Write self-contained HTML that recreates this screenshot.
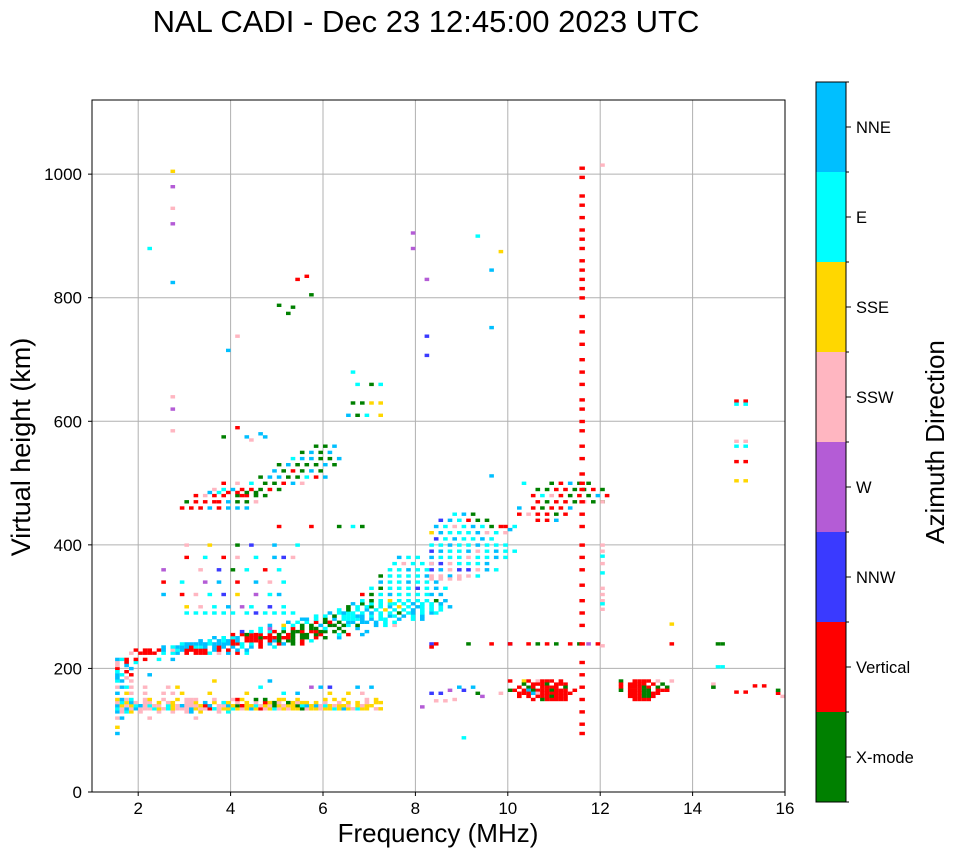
<!DOCTYPE html>
<html><head><meta charset="utf-8">
<style>
html,body{margin:0;padding:0;background:#fff;}
svg{display:block;font-family:"Liberation Sans","DejaVu Sans",sans-serif;}
</style></head>
<body>
<svg id="chart" width="958" height="857" viewBox="0 0 958 857" xmlns="http://www.w3.org/2000/svg">
<rect x="0" y="0" width="958" height="857" fill="#fff"/>
<text x="426" y="32" font-size="31" text-anchor="middle" fill="#000">NAL CADI - Dec 23 12:45:00 2023 UTC</text>
<g id="grid"></g>
<g id="marks"></g>
<rect x="92" y="100" width="693" height="692" fill="none" stroke="#000" stroke-width="1"/>
<g id="xticks"></g>
<g id="yticks"></g>
<text x="438" y="842" font-size="26" text-anchor="middle">Frequency (MHz)</text>
<text transform="translate(30,447) rotate(-90)" font-size="27" text-anchor="middle">Virtual height (km)</text>
<g id="cbar"></g>
<text transform="translate(944,442) rotate(-90)" font-size="26" text-anchor="middle">Azimuth Direction</text>
</svg>
<script>
const dirNames = ["X-mode","Vertical","NNW","W","SSW","SSE","E","NNE"];
const dirColors = ["#008000","#ff0000","#3a3aff","#b45cd6","#ffb6c1","#ffd700","#00ffff","#00bfff"];
const xTicks = [2,4,6,8,10,12,14,16];
const yTicks = [0,200,400,600,800,1000];

// Rows of echoes: height (km), start frequency (MHz), per-0.1MHz direction codes ('.' = none)
const rowHeight = [95,105,120,130,135,140,145,150,160,170,180,190,200,210,185,195,205,
 215,225,230,235,240,245,250,255,260,265,270,275,280,285,290,295,300,305,310,320,330,340,350,360,370,380,
 290,300,320,340,360,380,400,430,
 460,470,480,485,490,500,510,520,530,540,550,560,575,590,610,630,660,680,
 450,440,430,420,410,400,390,380,370,360,350,345,240,235,
 500,490,480,470,460,450,440,430,425,240,
 180,175,170,165,160,155,150,
 180,175,170,165,160,155,150];
const rowStartFreq = [1.5,1.5,1.5,1.5,1.5,1.5,1.5,1.5,1.5,1.5,1.5,1.5,1.5,1.5,1.5,1.5,1.5,
 1.5,1.8,1.9,2.5,2.9,3.3,3.6,4.0,4.2,4.6,4.8,5.2,5.5,5.8,6.1,6.3,6.5,6.6,6.8,6.8,7.0,7.2,7.2,7.4,7.5,7.6,
 3.0,3.0,2.5,2.5,2.5,3.0,3.0,5.0,
 2.9,3.0,3.2,3.5,3.6,3.8,4.6,4.9,5.0,5.3,5.5,5.8,3.8,4.1,6.5,6.6,6.7,6.6,
 8.8,8.5,8.4,8.3,8.4,8.3,8.3,8.3,8.3,8.3,8.3,8.3,8.3,8.3,
 10.3,10.6,10.5,10.6,10.2,10.2,10.6,9.9,10.0,10.0,
 10.0,10.3,10.2,10.1,10.2,10.2,10.5,
 12.4,12.4,12.4,12.4,12.6,12.6,12.7];
const rowCodes = ["7","5","47.....4.........4","7465.4...4..4..47.5...4.6",
 "6474744465465444754416455654575145645455045545565754655.45",
 "7545674644.6547444517.44750155645405455067574654554.5455..",
 "46574.44.5.45..445.7.5.65.4.5.4.1504.05455.5.4..4.5.5.4.55",
 "5746..45..4..5.444...4...415..0.0..55..5.....5.5.5....4.5.",
 "7.54..4...4.4.5.....5.......5.......6..7......5...5..4.....",
 "4764..4....4.5.................6..........3.7.2.....7..7...",
 "67.4.................5...........7......................",
 "76.1...7...............",
 "1..7......",
 "4.1.6.....",
 "7.4.",
 "6.1",
 "4.7",
 "761.1.1..6..7......",
 "4.1111.6.67.1.1116.4.7.1.6...",
 "1.11.17.46711111.71.1.7.7...",
 "7.67771667.717.7.6.7.1..6",
 "67777767777116.6.1.7.17.0.1",
 "7.6.76717.1111.170.00.1.6..",
 "7.6.67.11101110110.00.1.0..7",
 "1.10111.1.0.10.00.01...6.1..7",
 "2.6.6.61.0.001.1100.0.0....7",
 "6.3..6.1.0.00.6..0...7",
 "7..5.6.0.0.7.00.06.0...7.6.4",
 "7.6.6.1.01.0.77.77.7.6.6",
 "77.6.0.7.66667.7.66..7..6.7",
 "6.6.0.66677.6.6.76.7.6.7",
 "7.6766.6.7.6.6.0.67.6.76",
 "6.0.6.7.6.5.6.6.7.6.6.6",
 "0.6.60.6.7.5.6.76.6.6.7",
 "7.0.6.6.66.6.7.6.6.7",
 "6.0.6.5.6.6.6.6.0.7",
 "1.0.6.7.6.6.6.67.7",
 "6.0.6.6.6.2.6.7.6",
 "7.6.6.7.6.6.7",
 "0.6.6.6.6.7",
 "6.6.7.6.6",
 "6.4.6.6.7",
 "7.6.6",
 "6.6.6.6.6.6..6.2.6.6.6.6",
 "5..4..6..7..3.6...2..6",
 "7...1..4..6..2..5...3..6.7",
 "1...6....3..7...1...7..4..6",
 "3.......4...2..0..6...1..6",
 "1...6...1..4...6...7.2.4",
 "4....5.....0..2....7....6",
 "1......1.....0..6.0",
 "1.1.1.7.1.7.7.7",
 "0.1.1.11.7.0.0.4",
 "1.4.1.1..011.0.0",
 "7.6.1.1.0.0",
 "4.6.7.1.1.0.1.0",
 "1..4..6..0.0.1.7.4",
 "0.7.7.0.0.6.1.7",
 "7.0.1.0.7.0",
 "0.7.0.0.0.7.0",
 "6.7.7.0.0.7",
 "0.7.0.7",
 "0.0.7",
 "0....7...7",
 "1",
 "7.0.6..5",
 "0.0.5.5",
 "6..0.6",
 "6",
 "6.7.0",
 "2.7.6.1.0.0",
 "7.6.4.6.7.6.0.1",
 "5.7.6.6.6.7.4.6.4",
 "2.6.7.6.6.7.6",
 "6.6.7.6.6.7.6.6.6",
 "2.7.6.6.7.4.6.7.6.6",
 "7.6.6.6.4.6.6.7.6",
 "4.2.4.6.6.6.7",
 "2.7.4.2.2.4.7.6",
 "4.4.7.4.4.6",
 "4.4.4.4",
 "21......0....1...2",
 "1",
 "6.....0.1.7.0.0",
 "0.0.1.1.0.0.1.0",
 "1.6.4.1.0.1.0.7.1",
 "1.0.1.1.0.4.0.0",
 "7..1.0.1.1.7",
 "1.4.1.1.0.1",
 "1.1.7",
 "1.6",
 "7",
 "1...1.0.1.0..1.0.3.1",
 "1..51.4111.1",
 "0.1110.111",
 "1.01.1111.0",
 "1.1701110111.1",
 "111741111111",
 "1.1.1110111",
 "1.011111",
 "0..1111.4",
 "1.1111.1.0",
 "1.11101.0.0",
 "0.11100.111",
 "1110011",
 "111001",
 "1111"];

// Isolated echoes
const ptFreq = [2.7,2.7,2.7,2.7,2.2,2.7,3.9,4.1,5.4,5.6,5.7,5.0,5.3,5.2,2.7,2.7,2.7,8.2,8.2,8.2,7.9,7.9,9.3,9.8,9.6,9.6,9.6,4.6,4.4,
 12,12,12,12,12,12,12,12,12,12,12,12,12,
 8.3,8.5,8.7,8.9,9.0,9.2,9.3,8.4,8.6,8.8,8.1,9.0,9.4,9.8,10.0,
 13.5,13.5,13.5,14.4,14.4,14.5,14.6,14.5,14.6,14.9,15.1,15.3,15.5,15.8,15.9,15.8,
 14.9,15.1,14.9,15.1,14.9,15.1,14.9,15.1,14.9,15.1,14.9,15.1];
const ptHeight = [1005,980,945,920,880,825,715,738,830,835,805,788,785,775,640,620,585,830,738,707,905,880,900,875,845,752,512,580,570,
 1015,470,400,390,382,370,355,330,320,310,305,296,237,
 160,160,165,170,165,170,160,148,148,150,138,88,155,160,165,
 240,272,180,175,170,240,240,203,203,162,162,172,172,160,155,165,
 633,633,628,628,568,568,560,560,535,535,504,504];
const ptDir = [5,3,4,3,6,7,7,4,1,1,0,0,0,0,4,3,4,3,2,2,3,3,6,5,7,7,7,7,4,
 4,4,4,4,6,4,6,4,4,4,6,4,4,
 2,2,3,7,2,7,0,4,4,4,3,6,3,4,0,
 1,5,4,4,0,0,0,6,6,1,1,1,1,1,4,0,
 1,1,6,6,4,4,6,6,1,1,5,5];

// Vertical echo column near 11.55 MHz
const colFreq = 11.55;
const colHeights = [95,110,130,150,170,190,210,240,270,290,310,335,360,380,400,430,450,470,490,500,515,540,560,585,600,620,635,660,680,700,725,745,770,800,815,830,845,860,880,895,910,930,950,965,995,1010];

const X0=92, X1=785, Y0=792, Y1=100, FMIN=1, FMAX=16, HMIN=0, HMAX=1120;
function xs(f){return X0+(f-FMIN)/(FMAX-FMIN)*(X1-X0);}
function ys(h){return Y0-(h-HMIN)/(HMAX-HMIN)*(Y0-Y1);}
const NS="http://www.w3.org/2000/svg";
function mk(tag,attrs,parent){const e=document.createElementNS(NS,tag);for(const k in attrs)e.setAttribute(k,attrs[k]);parent.appendChild(e);return e;}

const grid=document.getElementById('grid'), xt=document.getElementById('xticks'), yt=document.getElementById('yticks');
xTicks.forEach(v=>{
  const x=xs(v);
  const gl=mk('line',{x1:x,x2:x,y1:Y1,y2:Y0,stroke:'#b0b0b0','stroke-width':1},grid);
  
  
  const tk=mk('line',{x1:x,x2:x,y1:Y0,y2:Y0+4,stroke:'#000'},xt);
  
  
  const t=mk('text',{x:x,y:Y0+22,'font-size':17,'text-anchor':'middle'},xt);
  t.textContent=v;
  
  
});
yTicks.forEach(v=>{
  const y=ys(v);
  const gl=mk('line',{x1:X0,x2:X1,y1:y,y2:y,stroke:'#b0b0b0','stroke-width':1},grid);
  
  
  const tk=mk('line',{x1:X0-4,x2:X0,y1:y,y2:y,stroke:'#000'},yt);
  
  
  const t=mk('text',{x:X0-10,y:y+6,'font-size':17,'text-anchor':'end'},yt);
  t.textContent=v;
  
  
});

const marks=document.getElementById('marks');
const BIN=0.1, HH=5.5;
function cell(f,h,d,w){
  const x=xs(f), x2=xs(f+w);
  const r=mk('rect',{x:x.toFixed(1),y:(ys(h)-1.5).toFixed(1),width:(x2-x).toFixed(1),height:(ys(h-HH)-ys(h)).toFixed(1),fill:dirColors[d]},marks);
  
  
}
rowCodes.forEach((s,i)=>{
  for(let j=0;j<s.length;j++){
    const c=s[j]; if(c==='.')continue;
    cell(rowStartFreq[i]+j*BIN,rowHeight[i],+c,BIN);
  }
});
ptFreq.forEach((f,i)=>cell(f,ptHeight[i],ptDir[i],BIN));
colHeights.forEach(h=>cell(colFreq,h,1,0.12));

// colorbar
const cb=document.getElementById('cbar');
const CX=816, CW=30, CT=82, CB=802, seg=(CB-CT)/dirNames.length;
dirNames.forEach((n,i)=>{
  const y=CB-(i+1)*seg;
  const r=mk('rect',{x:CX,y:y,width:CW,height:seg,fill:dirColors[i]},cb);
  
  
  const tk=mk('line',{x1:CX+CW,x2:CX+CW+5,y1:y+seg/2,y2:y+seg/2,stroke:'#000'},cb);
  
  
  const t=mk('text',{x:CX+CW+10,y:y+seg/2+6,'font-size':16.5},cb);
  t.textContent=n;
  
  
});
for(let i=0;i<=dirNames.length;i++){
  const y=CT+i*seg;
  const tk=mk('line',{x1:CX+CW,x2:CX+CW+3,y1:y,y2:y,stroke:'#000'},cb);
  
  
}
const fr=mk('rect',{x:CX,y:CT,width:CW,height:CB-CT,fill:'none',stroke:'#000'},cb);


</script>
</body></html>
